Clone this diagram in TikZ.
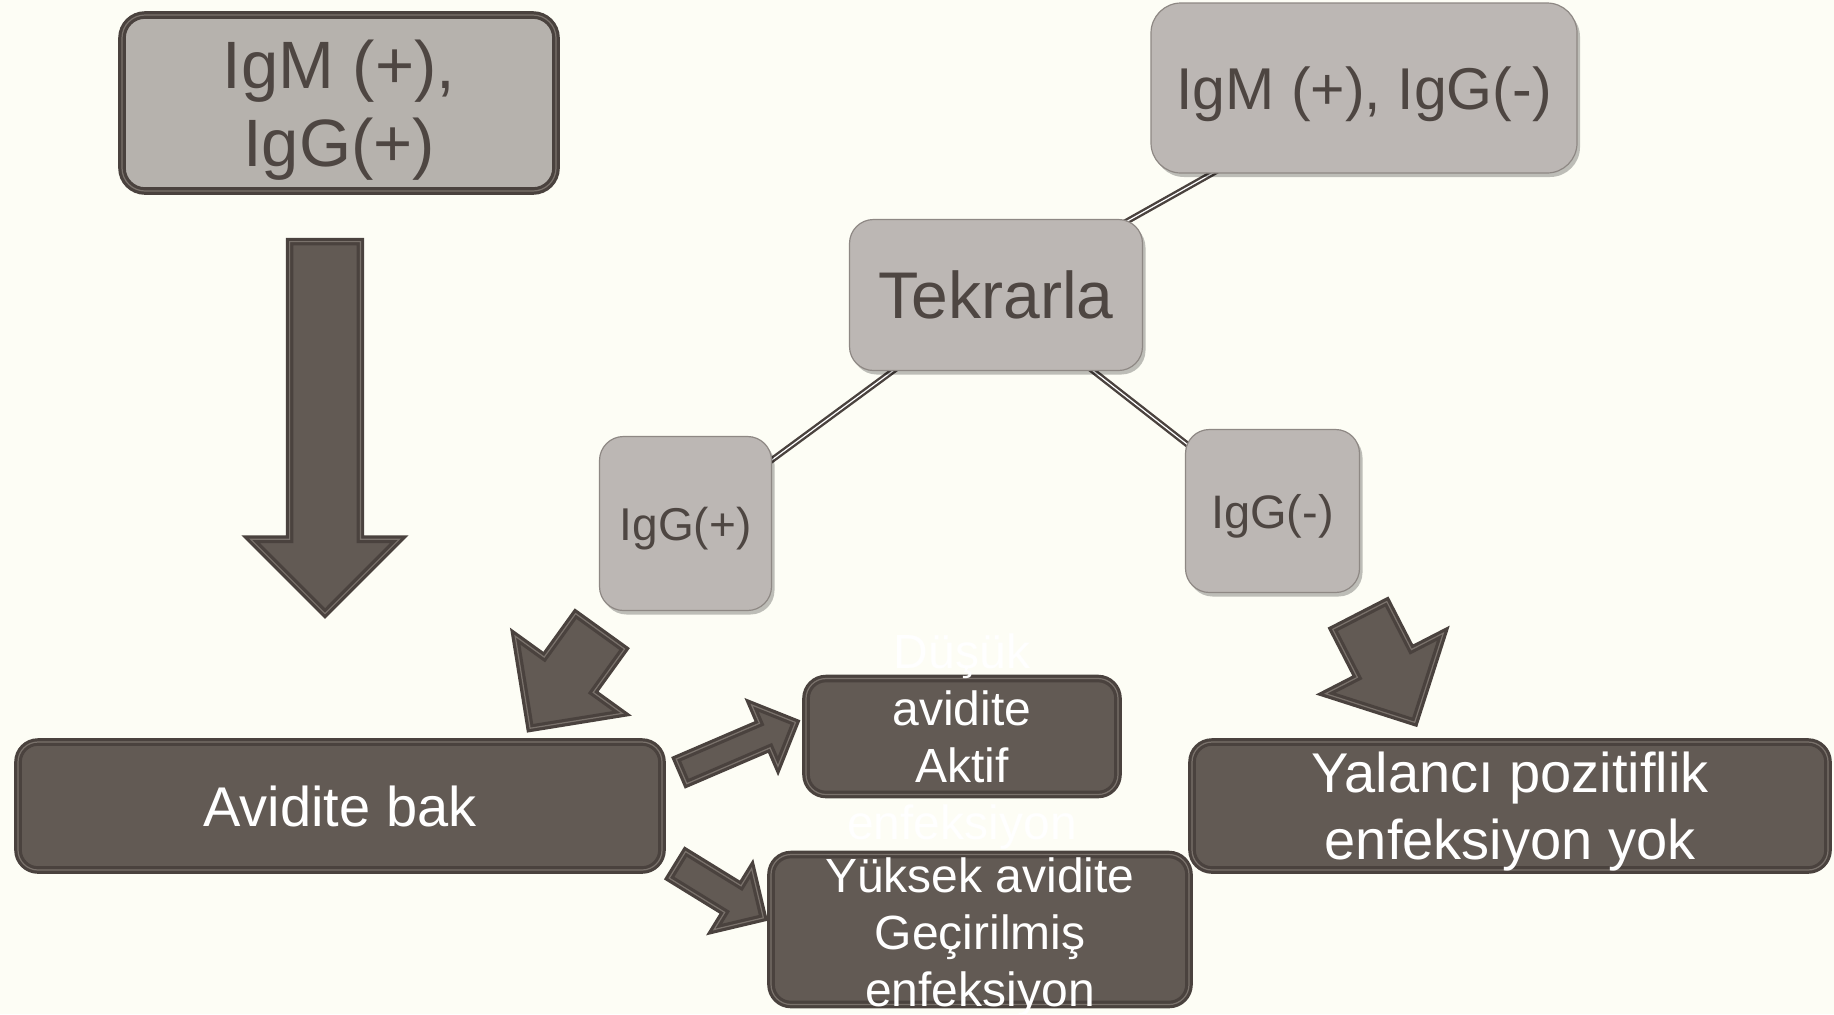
\documentclass[tikz,border=0pt]{standalone}
\usepackage{fontspec}
\setmainfont{Liberation Sans}
\usetikzlibrary{shapes.arrows,shadows,calc}

\definecolor{bgcream}{HTML}{FDFDF5}
\definecolor{darkfill}{HTML}{625A54}
\definecolor{darkedge}{HTML}{4A423E}
\definecolor{edgeline}{HTML}{7A726C}
\definecolor{greyfill}{HTML}{B6B2AD}
\definecolor{softfill}{HTML}{BCB7B4}
\definecolor{softedge}{HTML}{8E8884}
\definecolor{greytext}{HTML}{4E4642}

\pgfdeclarelayer{back}
\pgfsetlayers{back,main}

% block arrow from tail coordinate #1 to tip coordinate #2
\newcommand{\fatlink}[4]{%
  \path let \p1=($(#2)-(#1)$) in
    node[fatarrow,anchor=tail,rotate={atan2(\y1,\x1)},minimum height={veclen(\x1,\y1)},
      inner ysep=#3,single arrow head extend=#4] at (#1) {};}

\begin{document}
\begin{tikzpicture}[
    x=0.5pt,y=-0.5pt,
    box/.style={rounded corners=10pt,align=center,inner sep=0pt,text depth=0pt,draw=darkedge,double=edgeline,double distance=0.6pt,line width=1.6pt},
    darkbox/.style={box,fill=darkfill,text=white},
    greybox/.style={box,fill=greyfill,text=greytext},
    softbox/.style={rounded corners=12pt,align=center,inner sep=0pt,text depth=0pt,fill=softfill,draw=softedge,line width=0.6pt,text=greytext,
      drop shadow={shadow xshift=1.5pt,shadow yshift=-2pt,fill=black,opacity=0.25}},
    boxtext/.style={align=center,text depth=0pt,text=white,font=\fontsize{24}{28.5}\selectfont},
    link/.style={draw=darkedge,double=white,double distance=0.6pt,line width=1.2pt,shorten <=-4pt,shorten >=-4pt},
    fatarrow/.style={single arrow,single arrow tip angle=90,minimum width=0pt,inner xsep=0pt,
      fill=darkfill,draw=darkedge,double=edgeline,double distance=0.6pt,line width=1.6pt}
]
\useasboundingbox (0,0) rectangle (1834,1014);

\node[greybox,rounded corners=11.5pt,minimum width=217pt,minimum height=88pt,font=\fontsize{33.5}{39}\selectfont] (igmpos) at (339,103) {IgM (+),\\IgG(+)};
\node[softbox,rounded corners=15pt,minimum width=213pt,minimum height=85pt,font=\fontsize{29.5}{35}\selectfont] (igmneg) at (1364,88) {IgM (+), IgG(-)};
\node[softbox,minimum width=146.5pt,minimum height=75.5pt,font=\fontsize{33}{40}\selectfont] (tekrar) at (996,295) {Tekrarla};
\node[softbox,minimum width=86pt,minimum height=87pt,font=\fontsize{23}{28}\selectfont] (iggpos) at (685.5,523.5) {IgG(+)};
\node[softbox,minimum width=87pt,minimum height=81.5pt,font=\fontsize{23.5}{28}\selectfont] (iggneg) at (1272.5,511) {IgG(-)};

\node[darkbox,minimum width=322pt,minimum height=64pt,font=\fontsize{28}{33.5}\selectfont] (avidite) at (340,806) {Avidite bak};
\node[darkbox,minimum width=318pt,minimum height=64pt,font=\fontsize{28}{33.5}\selectfont] (yalanci) at (1510,806) {Yalancı pozitiflik\\enfeksiyon yok};
\node[darkbox,minimum width=156pt,minimum height=58pt] (dusuk) at (962,736.5) {};
\node[darkbox,minimum width=209pt,minimum height=75pt] (yuksek) at (980,929.5) {};

\begin{pgfonlayer}{back}
\fill[bgcream] (0,0) rectangle (1834,1014);
\draw[link] (tekrar) -- (igmneg);
\draw[link] (tekrar) -- (iggpos);
\draw[link] (tekrar) -- (iggneg);
\end{pgfonlayer}

\coordinate (downtail) at (325,240);
\coordinate (downtip) at (325,612);
\coordinate (postail) at (601,630);
\coordinate (postip) at (531,727);
\coordinate (lowtail) at (680,772);
\coordinate (lowtip) at (794,723);
\coordinate (hightail) at (676,864);
\coordinate (hightip) at (762,917);
\coordinate (negtail) at (1359,614);
\coordinate (negtip) at (1414,721);

\fatlink{downtail}{downtip}{16.9pt}{19.5pt}
\fatlink{postail}{postip}{14.3pt}{17.9pt}
\fatlink{lowtail}{lowtip}{5.9pt}{10pt}
\fatlink{hightail}{hightip}{7pt}{10.1pt}
\fatlink{negtail}{negtip}{14.4pt}{17.9pt}

\node[boxtext] (dusuklbl) at (dusuk.center) {Düşük\\avidite\\Aktif\\enfeksiyon};
\node[boxtext] (yukseklbl) at ([yshift=-1.2pt]yuksek.center) {Yüksek avidite\\Geçirilmiş\\enfeksiyon};

\end{tikzpicture}
\end{document}
